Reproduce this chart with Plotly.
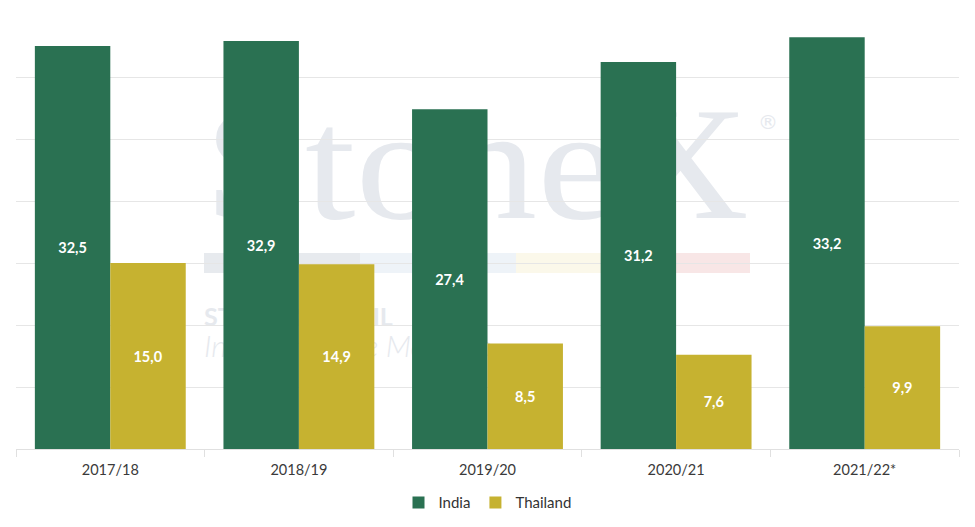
import base64
import plotly.graph_objects as go

categories = ["2017/18", "2018/19", "2019/20", "2020/21", "2021/22*"]
india = [32.5, 32.9, 27.4, 31.2, 33.2]
thailand = [15.0, 14.9, 8.5, 7.6, 9.9]

GREEN = "#2a7152"
GOLD = "#c6b230"
FONT = "Lato"

# faint background watermark (logo), placed behind the bars
wm = "#e6e9ee"
svg = f"""<svg xmlns="http://www.w3.org/2000/svg" width="943" height="434" viewBox="0 0 943 434">
<text x="188" y="203" font-family="Liberation Serif, DejaVu Serif, serif" font-size="160" fill="{wm}" textLength="545" lengthAdjust="spacingAndGlyphs">StoneX</text>
<text x="742" y="114" font-family="DejaVu Sans, sans-serif" font-size="20" fill="{wm}">&#174;</text>
<rect x="188" y="238" width="156" height="20" fill="#e7eaee"/>
<rect x="344" y="238" width="156" height="20" fill="#eef3f8"/>
<rect x="500" y="238" width="158" height="20" fill="#fbf8ea"/>
<rect x="658" y="238" width="76" height="20" fill="#f8e6e6"/>
<text x="188" y="311" font-family="Lato, sans-serif" font-weight="bold" font-size="25" fill="{wm}">STONEX BRASIL</text>
<text x="188" y="342" font-family="Lato, sans-serif" font-style="italic" font-weight="300" font-size="30" fill="{wm}">Intelig&#234;ncia de Mercado</text>
</svg>"""
uri = "data:image/svg+xml;base64," + base64.b64encode(svg.encode("utf-8")).decode("ascii")

fig = go.Figure()
fig.add_trace(go.Bar(
    name="India", x=categories, y=india, marker_color=GREEN, marker_line_width=0,
    texttemplate="%{y:.1f}", textposition="inside", insidetextanchor="middle",
    textangle=0, constraintext="none",
    textfont=dict(family=FONT, size=14.5, color="white", weight="bold"),
))
fig.add_trace(go.Bar(
    name="Thailand", x=categories, y=thailand, marker_color=GOLD, marker_line_width=0,
    texttemplate="%{y:.1f}", textposition="inside", insidetextanchor="middle",
    textangle=0, constraintext="none",
    textfont=dict(family=FONT, size=14.5, color="white", weight="bold"),
))

fig.update_layout(
    width=975, height=527,
    margin=dict(l=16, r=16, t=15, b=78, autoexpand=False),
    barmode="group", bargap=0.2, bargroupgap=0,
    separators=",.",
    paper_bgcolor="white", plot_bgcolor="rgba(0,0,0,0)",
    font=dict(family=FONT, size=14, color="#333333"),
    showlegend=True,
    legend=dict(orientation="h", x=0.5, xanchor="center", y=-0.124, yanchor="middle",
                font=dict(family=FONT, size=15, color="#333333"),
                itemwidth=30, traceorder="normal"),
    images=[dict(source=uri, xref="paper", yref="paper", x=0, y=1, sizex=1, sizey=1,
                 xanchor="left", yanchor="top", sizing="stretch", layer="below")],
)
fig.update_xaxes(
    showline=True, linecolor="#e0e0e0", linewidth=1,
    ticks="outside", tickson="boundaries", ticklen=7, tickcolor="#e0e0e0",
    ticklabelstandoff=8,
    showgrid=False, tickfont=dict(family=FONT, size=14.5, color="#3a3a3a"),
)
fig.update_yaxes(
    range=[0, 35], dtick=5, showgrid=True, gridcolor="#e6e6e6", gridwidth=1,
    showticklabels=False, zeroline=False, showline=False,
)

fig.write_html("out.html", config={"displayModeBar": False},
               post_script="document.body.style.margin='0';document.body.style.padding='0';")
